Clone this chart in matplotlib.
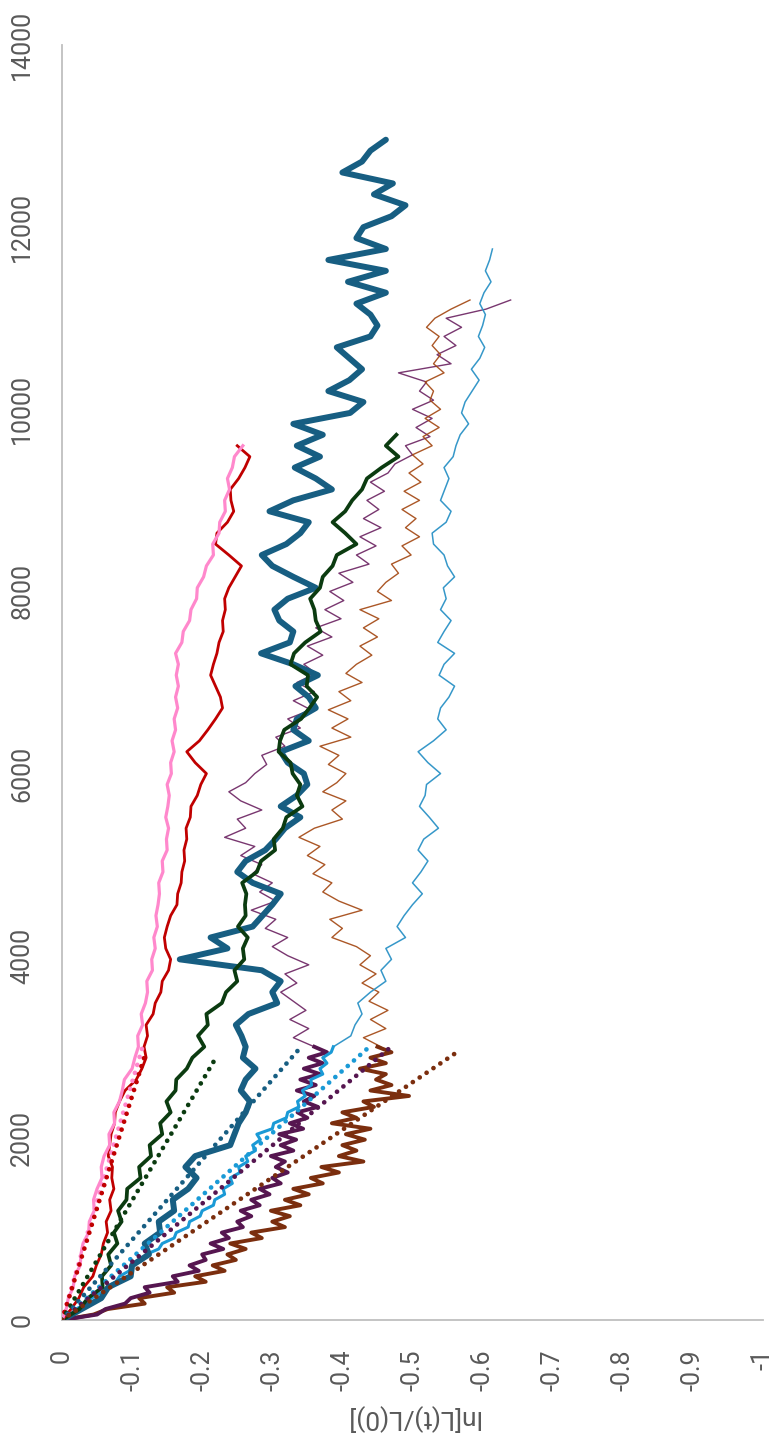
import numpy as np
import matplotlib
matplotlib.use("Agg")
import matplotlib.pyplot as plt

plt.rcParams['font.family'] = ['Roboto', 'DejaVu Sans']

# ---- axis definitions ----
x_ticks = [0, -0.1, -0.2, -0.3, -0.4, -0.5, -0.6, -0.7, -0.8, -0.9, -1]
x_tick_labels = ['0', '-0.1', '-0.2', '-0.3', '-0.4', '-0.5', '-0.6', '-0.7', '-0.8', '-0.9', '-1']
y_ticks = [0, 2000, 4000, 6000, 8000, 10000, 12000, 14000]
y_tick_labels = ['0', '2000', '4000', '6000', '8000', '10000', '12000', '14000']
axis_label = 'ln[L(t)/L(0)]'

# ---- measured series: ln[L(t)/L(0)] sampled on regular time grids ----
pink_t0, pink_dt = 0, 120
pink_v = [0.000, -0.006, -0.009, -0.016, -0.018, -0.026, -0.027, -0.030, -0.038, -0.039,
          -0.046, -0.045, -0.050, -0.057, -0.056, -0.060, -0.068, -0.067, -0.075, -0.074,
          -0.082, -0.086, -0.089, -0.100, -0.104, -0.109, -0.108, -0.115, -0.113, -0.119,
          -0.122, -0.121, -0.129, -0.128, -0.133, -0.131, -0.136, -0.134, -0.137, -0.139,
          -0.138, -0.144, -0.143, -0.150, -0.149, -0.152, -0.148, -0.151, -0.153, -0.150,
          -0.156, -0.155, -0.160, -0.157, -0.162, -0.160, -0.165, -0.162, -0.166, -0.163,
          -0.166, -0.162, -0.171, -0.173, -0.182, -0.184, -0.192, -0.193, -0.202, -0.206,
          -0.216, -0.215, -0.224, -0.225, -0.233, -0.232, -0.239, -0.236, -0.243, -0.246,
          -0.258]

red_t0, red_dt = 0, 120
red_v = [0.000, -0.013, -0.024, -0.031, -0.044, -0.049, -0.056, -0.059, -0.065, -0.063,
         -0.070, -0.068, -0.074, -0.071, -0.072, -0.066, -0.068, -0.070, -0.075, -0.076,
         -0.082, -0.090, -0.106, -0.114, -0.120, -0.117, -0.122, -0.120, -0.130, -0.133,
         -0.141, -0.143, -0.152, -0.155, -0.148, -0.146, -0.150, -0.155, -0.164, -0.165,
         -0.170, -0.171, -0.175, -0.174, -0.178, -0.177, -0.183, -0.184, -0.193, -0.198,
         -0.206, -0.190, -0.178, -0.196, -0.208, -0.219, -0.229, -0.226, -0.219, -0.212,
         -0.216, -0.221, -0.224, -0.230, -0.229, -0.233, -0.232, -0.238, -0.247, -0.256,
         -0.238, -0.219, -0.221, -0.236, -0.245, -0.241, -0.240, -0.252, -0.261, -0.268,
         -0.250]

green_t0, green_dt = 0, 120
green_v = [0.000, -0.025, -0.037, -0.058, -0.057, -0.070, -0.066, -0.079, -0.074, -0.085,
           -0.080, -0.092, -0.093, -0.112, -0.110, -0.127, -0.125, -0.143, -0.140, -0.155,
           -0.149, -0.162, -0.163, -0.178, -0.186, -0.203, -0.194, -0.208, -0.206, -0.228,
           -0.234, -0.250, -0.246, -0.260, -0.258, -0.265, -0.251, -0.262, -0.261, -0.263,
           -0.257, -0.278, -0.284, -0.304, -0.302, -0.315, -0.320, -0.343, -0.335, -0.340,
           -0.329, -0.326, -0.309, -0.311, -0.317, -0.341, -0.353, -0.364, -0.349, -0.351,
           -0.326, -0.331, -0.347, -0.369, -0.362, -0.360, -0.354, -0.368, -0.372, -0.386,
           -0.392, -0.420, -0.404, -0.386, -0.404, -0.414, -0.428, -0.435, -0.456, -0.480,
           -0.462, -0.477]

navy_t0, navy_dt = 0, 120
navy_v = [0.000, -0.028, -0.056, -0.066, -0.098, -0.100, -0.124, -0.118, -0.140, -0.138,
          -0.160, -0.158, -0.180, -0.192, -0.176, -0.190, -0.240, -0.246, -0.252, -0.262,
          -0.268, -0.255, -0.262, -0.276, -0.258, -0.262, -0.256, -0.248, -0.266, -0.307,
          -0.300, -0.312, -0.285, -0.168, -0.236, -0.212, -0.272, -0.286, -0.300, -0.312,
          -0.272, -0.250, -0.262, -0.290, -0.305, -0.318, -0.340, -0.312, -0.335, -0.350,
          -0.345, -0.322, -0.312, -0.352, -0.330, -0.335, -0.362, -0.352, -0.333, -0.365,
          -0.330, -0.284, -0.325, -0.330, -0.310, -0.303, -0.322, -0.362, -0.330, -0.300,
          -0.285, -0.320, -0.340, -0.352, -0.296, -0.330, -0.385, -0.362, -0.332, -0.368,
          -0.335, -0.372, -0.330, -0.411, -0.430, -0.380, -0.410, -0.428, -0.410, -0.392,
          -0.440, -0.450, -0.440, -0.420, -0.462, -0.408, -0.462, -0.380, -0.462, -0.420,
          -0.430, -0.470, -0.490, -0.445, -0.472, -0.400, -0.428, -0.440, -0.462]

sky_early_t0, sky_early_dt = 0, 60
sky_early_v = [0.000, -0.013, -0.020, -0.034, -0.042, -0.056, -0.064, -0.077, -0.082, -0.096,
               -0.100, -0.115, -0.120, -0.138, -0.143, -0.160, -0.163, -0.180, -0.182, -0.197,
               -0.200, -0.216, -0.218, -0.232, -0.230, -0.243, -0.240, -0.254, -0.252, -0.265,
               -0.262, -0.276, -0.272, -0.283, -0.278, -0.300, -0.302, -0.320, -0.322, -0.338,
               -0.336, -0.347, -0.343, -0.356, -0.355, -0.372, -0.368, -0.378, -0.372, -0.384,
               -0.387]

sky_late_t0, sky_late_dt = 3000, 120
sky_late_v = [-0.387, -0.412, -0.418, -0.428, -0.422, -0.440, -0.462, -0.455, -0.470, -0.462,
              -0.490, -0.478, -0.488, -0.500, -0.514, -0.500, -0.512, -0.522, -0.508, -0.516,
              -0.537, -0.524, -0.510, -0.518, -0.520, -0.540, -0.522, -0.508, -0.530, -0.548,
              -0.536, -0.540, -0.552, -0.560, -0.538, -0.545, -0.560, -0.536, -0.545, -0.555,
              -0.540, -0.548, -0.544, -0.560, -0.550, -0.545, -0.530, -0.528, -0.548, -0.555,
              -0.540, -0.546, -0.552, -0.545, -0.558, -0.562, -0.568, -0.580, -0.570, -0.575,
              -0.585, -0.595, -0.584, -0.596, -0.603, -0.594, -0.600, -0.604, -0.596, -0.602,
              -0.612, -0.604, -0.610, -0.614]

plum_early_t0, plum_early_dt = 0, 60
plum_early_v = [0.000, -0.050, -0.062, -0.090, -0.098, -0.125, -0.118, -0.165, -0.158, -0.195,
                -0.182, -0.205, -0.200, -0.230, -0.212, -0.238, -0.228, -0.258, -0.250, -0.270,
                -0.255, -0.282, -0.270, -0.296, -0.282, -0.312, -0.300, -0.322, -0.305, -0.318,
                -0.298, -0.330, -0.312, -0.334, -0.310, -0.344, -0.325, -0.350, -0.336, -0.365,
                -0.345, -0.360, -0.335, -0.362, -0.340, -0.368, -0.345, -0.372, -0.352, -0.378,
                -0.360]

plum_late_t0, plum_late_dt = 3000, 100
plum_late_v = [-0.360, -0.330, -0.352, -0.325, -0.348, -0.330, -0.312, -0.335, -0.318, -0.352,
               -0.322, -0.300, -0.322, -0.290, -0.305, -0.270, -0.305, -0.282, -0.300, -0.272,
               -0.285, -0.255, -0.275, -0.232, -0.262, -0.250, -0.285, -0.255, -0.238, -0.262,
               -0.275, -0.292, -0.285, -0.318, -0.305, -0.340, -0.322, -0.355, -0.330, -0.360,
               -0.335, -0.362, -0.345, -0.372, -0.350, -0.385, -0.362, -0.398, -0.375, -0.402,
               -0.382, -0.415, -0.395, -0.438, -0.420, -0.448, -0.425, -0.455, -0.430, -0.452,
               -0.435, -0.460, -0.440, -0.465, -0.475, -0.500, -0.490, -0.525, -0.505, -0.528,
               -0.500, -0.530, -0.510, -0.520, -0.480, -0.555, -0.535, -0.562, -0.545, -0.570,
               -0.548, -0.605, -0.640]

rust_early_t0, rust_early_dt = 0, 60
rust_early_v = [0.000, -0.045, -0.065, -0.118, -0.110, -0.160, -0.150, -0.205, -0.190, -0.232,
                -0.215, -0.248, -0.236, -0.262, -0.240, -0.285, -0.270, -0.318, -0.300, -0.325,
                -0.298, -0.340, -0.318, -0.352, -0.330, -0.372, -0.355, -0.395, -0.370, -0.430,
                -0.395, -0.420, -0.400, -0.432, -0.405, -0.440, -0.385, -0.420, -0.400, -0.445,
                -0.430, -0.495, -0.440, -0.470, -0.448, -0.462, -0.425, -0.462, -0.440, -0.470,
                -0.450]

rust_late_t0, rust_late_dt = 3000, 100
rust_late_v = [-0.455, -0.430, -0.462, -0.440, -0.465, -0.438, -0.452, -0.428, -0.448, -0.425,
               -0.440, -0.420, -0.385, -0.400, -0.382, -0.428, -0.395, -0.372, -0.385, -0.358,
               -0.375, -0.350, -0.368, -0.338, -0.360, -0.400, -0.385, -0.405, -0.372, -0.392,
               -0.405, -0.380, -0.395, -0.368, -0.412, -0.385, -0.408, -0.380, -0.412, -0.395,
               -0.428, -0.405, -0.420, -0.442, -0.425, -0.450, -0.430, -0.452, -0.425, -0.470,
               -0.450, -0.462, -0.480, -0.470, -0.498, -0.485, -0.510, -0.490, -0.505, -0.485,
               -0.510, -0.488, -0.512, -0.495, -0.515, -0.500, -0.528, -0.515, -0.538, -0.518,
               -0.540, -0.525, -0.530, -0.518, -0.545, -0.530, -0.540, -0.528, -0.538, -0.520,
               -0.532, -0.555, -0.582]

# linear trend lines through the origin: end time and end value
trend_names = ['pink', 'red', 'green', 'navy', 'sky', 'plum', 'rust']
trend_end_t = [3000, 2950, 2860, 2990, 2990, 2990, 2970]
trend_end_v = [-0.115, -0.120, -0.218, -0.340, -0.437, -0.468, -0.569]

colors = {
    'pink': '#FF88CC',
    'red': '#C00000',
    'green': '#0B3B10',
    'navy': '#175E82',
    'sky': '#1A9AD6',
    'sky_thin': '#2B92C6',
    'plum': '#561650',
    'plum_thin': '#6A2160',
    'rust': '#7B2E0E',
    'rust_thin': '#A2450F',
}


def grid(t0, dt, values):
    return t0 + dt * np.arange(len(values))


fig = plt.figure(figsize=(7.73, 14.4), dpi=100)
W, H = 773, 1440
left, right, top, bottom = 62, 763, 45, 1320
ax = fig.add_axes([left / W, (H - bottom) / H, (right - left) / W, (bottom - top) / H])

# thin later segments
ax.plot(plum_late_v, grid(plum_late_t0, plum_late_dt, plum_late_v),
        color=colors['plum_thin'], lw=1.0, alpha=0.9, zorder=2)
ax.plot(rust_late_v, grid(rust_late_t0, rust_late_dt, rust_late_v),
        color=colors['rust_thin'], lw=1.0, alpha=0.9, zorder=2)
ax.plot(sky_late_v, grid(sky_late_t0, sky_late_dt, sky_late_v),
        color=colors['sky_thin'], lw=1.1, alpha=0.95, zorder=2)

# early segments
ax.plot(rust_early_v, grid(rust_early_t0, rust_early_dt, rust_early_v),
        color=colors['rust'], lw=2.8, zorder=3)
ax.plot(plum_early_v, grid(plum_early_t0, plum_early_dt, plum_early_v),
        color=colors['plum'], lw=2.8, zorder=3)
ax.plot(sky_early_v, grid(sky_early_t0, sky_early_dt, sky_early_v),
        color=colors['sky'], lw=2.2, zorder=3)

# full-length series
ax.plot(navy_v, grid(navy_t0, navy_dt, navy_v), color=colors['navy'], lw=4.3,
        zorder=4, solid_capstyle='round', solid_joinstyle='round')
ax.plot(green_v, grid(green_t0, green_dt, green_v), color=colors['green'], lw=2.7, zorder=5)
ax.plot(red_v, grid(red_t0, red_dt, red_v), color=colors['red'], lw=2.0, zorder=6)
ax.plot(pink_v, grid(pink_t0, pink_dt, pink_v), color=colors['pink'], lw=2.3, zorder=6)

# dotted trend lines
for name, te, ve in zip(trend_names, trend_end_t, trend_end_v):
    ax.plot([0, ve], [0, te], color=colors[name], lw=3.4, linestyle=(0, (0.01, 1.75)),
            dash_capstyle='round', zorder=7)

ax.set_xlim(0, -1)
ax.set_ylim(0, 14000)
ax.set_xticks(x_ticks)
ax.set_xticklabels(x_tick_labels, rotation=90, fontsize=18, color='#595959')
ax.set_yticks(y_ticks)
ax.set_yticklabels(y_tick_labels, rotation=90, va='center', fontsize=18, color='#595959')
ax.tick_params(axis='both', length=0)
ax.tick_params(axis='x', pad=21)
ax.tick_params(axis='y', pad=20)

for side in ('top', 'right'):
    ax.spines[side].set_visible(False)
for side in ('left', 'bottom'):
    ax.spines[side].set_color('#BFBFBF')
    ax.spines[side].set_linewidth(1.3)

fig.text((left + right) / 2 / W, 1 - 1418 / H, axis_label, rotation=180,
         ha='center', va='center', fontsize=19, color='#595959')

fig.savefig('out.png', dpi=100)
